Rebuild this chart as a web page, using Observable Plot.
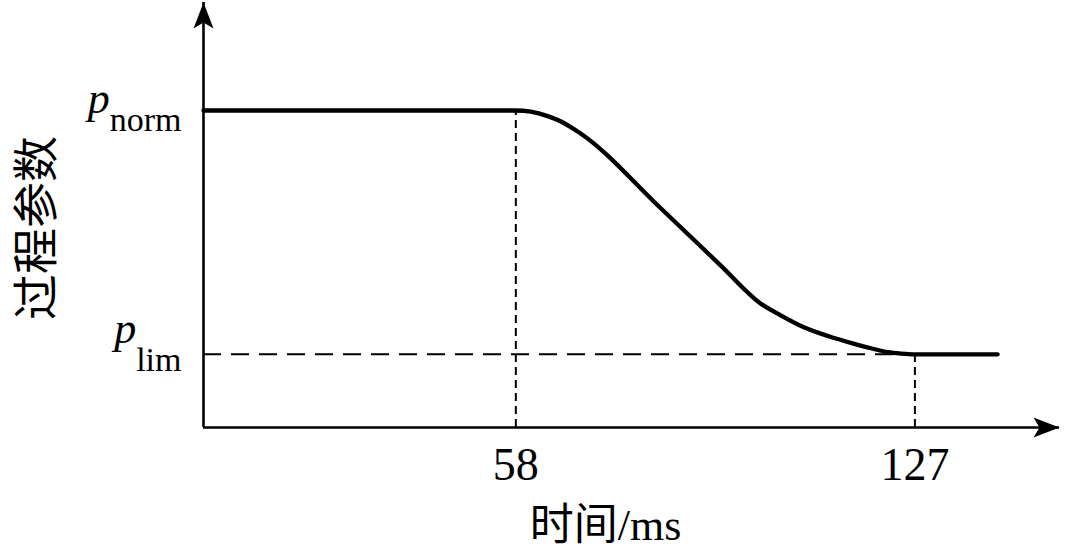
<!DOCTYPE html>
<html>
<head>
<meta charset="utf-8">
<script src="https://cdn.jsdelivr.net/npm/d3@7"></script>
<script src="https://cdn.jsdelivr.net/npm/@observablehq/plot@0.6"></script>
<style>
  html, body { margin: 0; padding: 0; background: #fff; }
  #chart svg { display: block; }
</style>
</head>
<body>
<div id="chart"></div>
<script>
// ---- data ----
const timeMs     = [4, 58, 60.6, 63.5, 65.8, 67.5, 69.2, 83.1, 93.4, 100.3, 103.8, 107.8, 112.1, 116.4, 119.4, 122.3, 124.6, 127, 141.3];
const paramLevel = [1, 1, 0.995, 0.977, 0.955, 0.932, 0.906, 0.598, 0.365, 0.209, 0.160, 0.111, 0.074, 0.044, 0.025, 0.009, 0.003, 0, 0];
const xTickValues = [58, 127];
const yTickValues = [1, 0];          // p_norm, p_lim
const yTickSymbol = "p";
const yTickSubs   = ["norm", "lim"];
const xAxisLabel  = "时间/ms";
const yAxisLabel  = "过程参数";
const xDomain = [4, 152];
const yDomain = [-0.3, 1.443];

const curve = timeMs.map((t, i) => ({t, v: paramLevel[i]}));

const serif = "'Liberation Serif', 'Times New Roman', 'Noto Sans CJK SC', serif";
const cjk = "'Noto Sans CJK SC', sans-serif";

// filled arrowhead, tip at the origin pointing up
const arrowHead = {
  draw(ctx) {
    ctx.moveTo(0, 0);
    ctx.lineTo(10, 26);
    ctx.lineTo(0, 20);
    ctx.lineTo(-10, 26);
    ctx.closePath();
  }
};

const chart = Plot.plot({
  width: 1080,
  height: 552,
  marginLeft: 203,
  marginRight: 21,
  marginTop: 2,
  marginBottom: 125,
  style: {fontFamily: serif, color: "black", background: "white"},
  x: {domain: xDomain, axis: null},
  y: {domain: yDomain, axis: null},
  marks: [
    // dashed guides
    Plot.ruleX([xTickValues[0]], {x: d => d, y1: yDomain[0], y2: yTickValues[0], stroke: "black", strokeWidth: 2, strokeDasharray: "8,5"}),
    Plot.ruleX([xTickValues[1]], {x: d => d, y1: yDomain[0], y2: yTickValues[1], stroke: "black", strokeWidth: 2, strokeDasharray: "8,5"}),
    Plot.ruleY([yTickValues[1]], {y: d => d, x1: xDomain[0], x2: xTickValues[1], stroke: "black", strokeWidth: 2, strokeDasharray: "18,10"}),
    // axes
    Plot.ruleX([xDomain[0]], {x: d => d, y1: yDomain[0], y2: yDomain[1], stroke: "black", strokeWidth: 2.6}),
    Plot.ruleY([yDomain[0]], {y: d => d, x1: xDomain[0], x2: xDomain[1], stroke: "black", strokeWidth: 2.6}),
    Plot.dot([{x: xDomain[1], y: yDomain[0], a: 90}, {x: xDomain[0], y: yDomain[1], a: 0}],
      {x: "x", y: "y", rotate: "a", symbol: arrowHead, fill: "black", stroke: "none"}),
    // process curve
    Plot.line(curve, {x: "t", y: "v", curve: "monotone-x", stroke: "black", strokeWidth: 4.3, strokeLinejoin: "round"}),
    // x ticks
    Plot.axisX({ticks: xTickValues, tickSize: 0, tickPadding: 20, fontSize: 46, tickFormat: d => String(d), fontFamily: serif}),
    // y tick labels (rich text built below)
    Plot.text(yTickValues, {frameAnchor: "left", y: d => d, text: () => yTickSymbol, textAnchor: "end", dx: -22, fontSize: 44, fontFamily: serif}),
    // axis titles
    Plot.text([xAxisLabel], {frameAnchor: "bottom", text: d => d, textAnchor: "middle", lineAnchor: "middle", dx: -26, dy: 98, fontSize: 44, fontFamily: serif}),
    Plot.text([yAxisLabel], {frameAnchor: "left", text: d => d, textAnchor: "middle", lineAnchor: "middle", rotate: -90, dx: -166, dy: 13, fontSize: 46, fontFamily: cjk})
  ]
});

// build p_sub labels as tspans
const ns = "http://www.w3.org/2000/svg";
const shifts = [[2, 18], [-11, 28]];
Array.from(chart.querySelectorAll("text"))
  .filter(el => el.textContent === yTickSymbol)
  .forEach((el, i) => {
    el.removeAttribute("y");
    el.removeAttribute("dy");
    el.textContent = "";
    const p = document.createElementNS(ns, "tspan");
    p.setAttribute("font-style", "italic");
    p.setAttribute("font-size", "44");
    p.setAttribute("dy", shifts[i][0]);
    p.textContent = yTickSymbol;
    const s = document.createElementNS(ns, "tspan");
    s.setAttribute("font-size", "34");
    s.setAttribute("dy", shifts[i][1]);
    s.textContent = yTickSubs[i];
    el.appendChild(p);
    el.appendChild(s);
  });

document.getElementById("chart").appendChild(chart);
</script>
</body>
</html>
